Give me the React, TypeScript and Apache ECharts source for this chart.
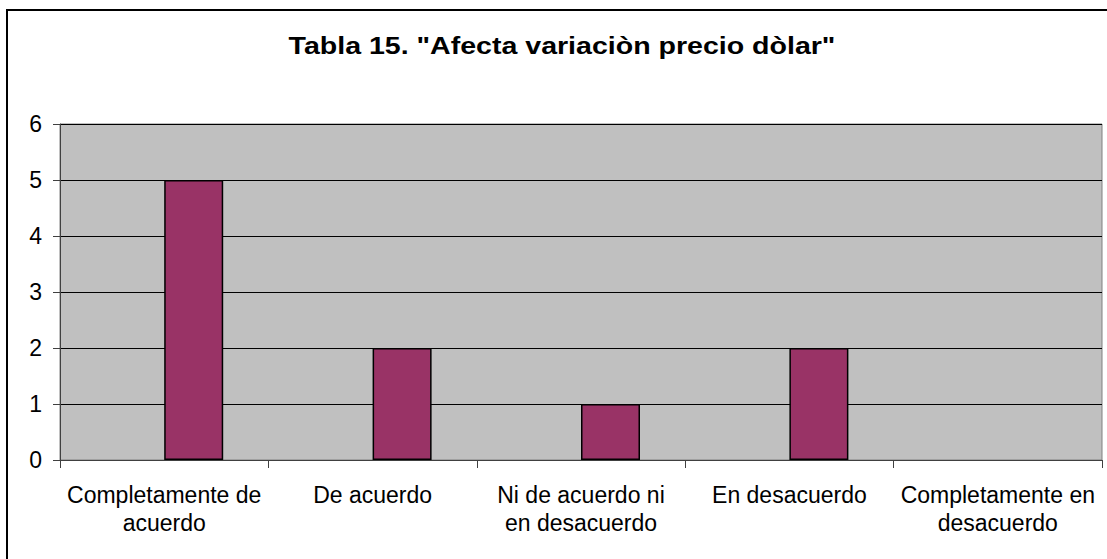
import React, { useEffect, useRef } from "react";
import * as echarts from "echarts";

const titleText = 'Tabla 15. "Afecta variaciòn precio dòlar"';
const categories = [
  "Completamente de\nacuerdo",
  "De acuerdo",
  "Ni de acuerdo ni\nen desacuerdo",
  "En desacuerdo",
  "Completamente en\ndesacuerdo",
];
const values = [5, 2, 1, 2, 0];
const emptySeries = [null, null, null, null, null];
const yTicks = { min: 0, max: 6, interval: 1 };

export default function App() {
  const ref = useRef<HTMLDivElement>(null);
  useEffect(() => {
    if (!ref.current) return;
    const chart = echarts.init(ref.current, undefined, { renderer: "svg" });
    const font = "'Liberation Sans', Arial, sans-serif";
    chart.setOption({
      animation: false,
      backgroundColor: "#ffffff",
      grid: {
        left: 60,
        top: 124,
        width: 1042,
        height: 336,
        show: true,
        backgroundColor: "#C0C0C0",
        borderColor: "#808080",
        borderWidth: 1,
        containLabel: false,
      },
      xAxis: {
        type: "category",
        data: categories,
        axisLine: { show: true, lineStyle: { color: "#404040", width: 1 } },
        axisTick: { show: true, alignWithLabel: false, length: 8, lineStyle: { color: "#404040" } },
        axisLabel: {
          color: "#000",
          fontFamily: font,
          fontSize: 23,
          lineHeight: 28,
          margin: 21,
          interval: 0,
        },
        splitLine: { show: false },
      },
      yAxis: {
        type: "value",
        min: yTicks.min,
        max: yTicks.max,
        interval: yTicks.interval,
        axisLine: { show: true, lineStyle: { color: "#404040", width: 1 } },
        axisTick: { show: true, length: 7, lineStyle: { color: "#404040" } },
        axisLabel: { color: "#000", fontFamily: font, fontSize: 23, margin: 18 },
        splitLine: { show: true, lineStyle: { color: "#000", width: 1 } },
      },
      graphic: [
        {
          type: "rect",
          shape: { x: 7, y: 10, width: 1120, height: 580 },
          style: { fill: "none", stroke: "#000", lineWidth: 2 },
          silent: true,
          z: 100,
        },
        {
          type: "text",
          x: 562,
          y: 46,
          scaleX: 1.19,
          style: {
            text: titleText,
            fontFamily: font,
            fontSize: 24,
            fontWeight: "bold",
            fill: "#000",
            align: "center",
            verticalAlign: "middle",
          },
          z: 100,
        },
      ],
      series: [
        {
          type: "bar",
          name: "",
          data: emptySeries,
          barWidth: 59,
          barGap: "0%",
        },
        {
          type: "bar",
          name: "Afecta variación precio dólar",
          data: values.map((v) =>
            v === 0 ? { value: v, itemStyle: { borderWidth: 0 } } : v
          ),
          barWidth: 59,
          barGap: "0%",
          itemStyle: { color: "#993366", borderColor: "#000", borderWidth: 1.5 },
        },
      ],
    });
    return () => chart.dispose();
  }, []);
  return (
    <div
      ref={ref}
      style={{ position: "fixed", left: 0, top: 0, width: 1107, height: 559 }}
    />
  );
}
